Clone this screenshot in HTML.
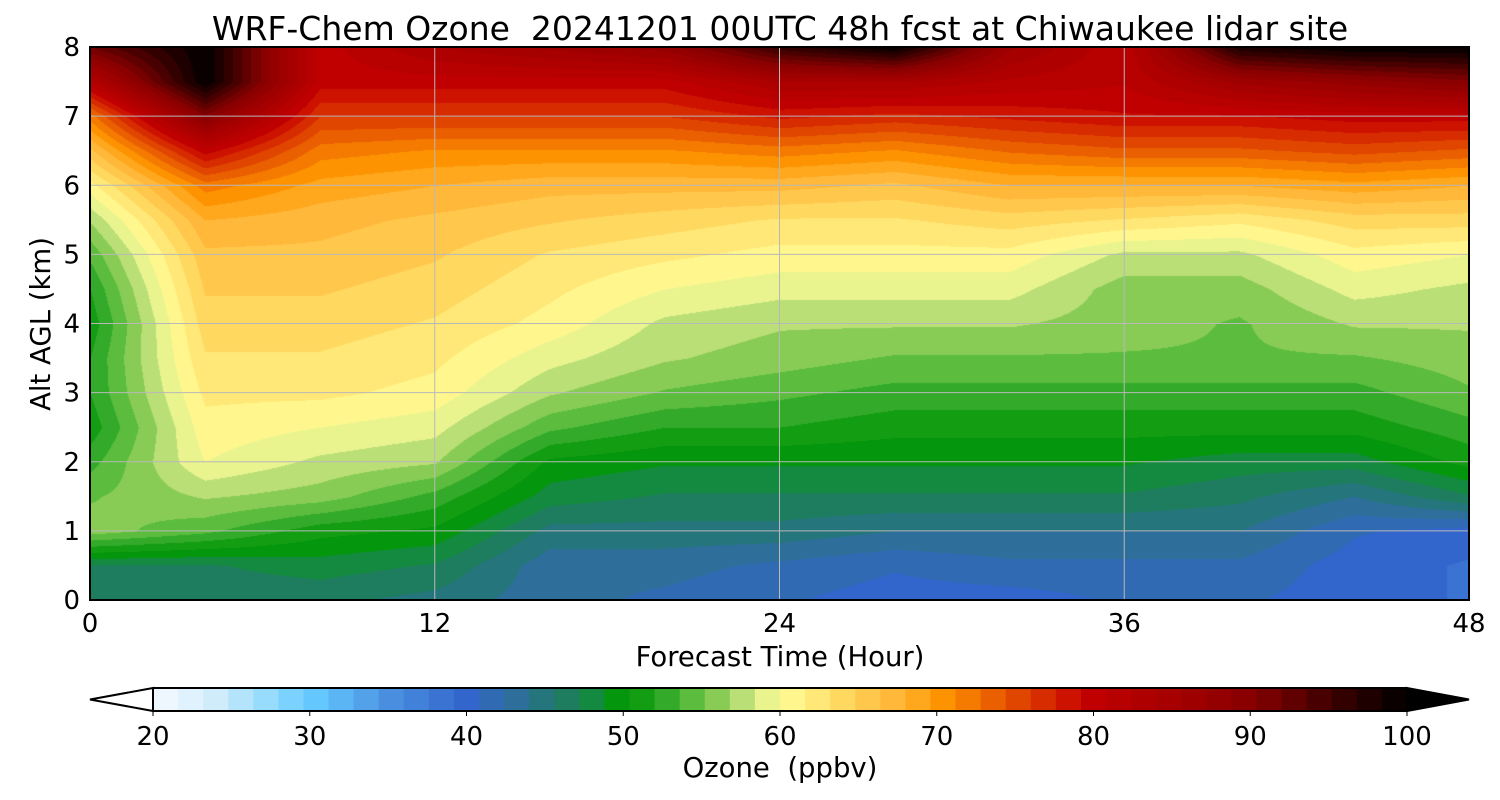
<!DOCTYPE html>
<html><head><meta charset="utf-8"><style>
body{margin:0;background:#fff;font-family:"DejaVu Sans","Liberation Sans",sans-serif;}
#wrap{position:relative;width:1500px;height:800px;overflow:hidden;}
svg{position:absolute;left:0;top:0;}
svg text{white-space:pre;}
canvas{position:absolute;left:90px;top:47px;}
</style></head><body>
<div id="wrap">
<canvas id="cv" width="1379" height="553"></canvas>
<svg id="sv" width="1500" height="800"></svg>
</div>
<script>
const times=[0,4,8,12,16,20,24,28,32,36,40,44,48];
const alts=[0,0.5,1,1.5,2,2.5,3,3.5,4,4.5,5,5.5,6,6.5,7,7.5,8];
const ozone=[
[47,47,56,55,53,51,52,52,51,52,54,57,61,66,72,82,92],
[46,47,54,57,60,61,62,63,64,65,66,68,72,80,90,100,100],
[46,48,51,56,58,60,62,63,64,65,66,67,69,72,76,80,80],
[45,47,50,53,57,59,61,62,63,64,65,66,68,71,76,80,84],
[43,43,45,48,50,54,57,59,61,62,63,65,67,71,76,80,86],
[42,43,45,47,49,52,55,57,58,60,62,64,67,71,76,80,88],
[41,42,45,47,49,52,54,56,57,59,61,63,67,72,78,84,96],
[40,41,44,47,49,51,53,55,57,59,61,63,66,71,77,84,100],
[40,42,44,47,49,51,53,55,57,59,61,64,68,73,78,82,86],
[41,42,44,47,49,51,53,55,56,56,58,63,68,74,79,81,81],
[41,42,44,46,48,51,53,55,55,56,58,62,68,74,79,86,98],
[40,40,41,44,48,51,53,55,57,59,61,64,69,75,80,88,100],
[39,39,40,47,51,53,55,56,57,58,60,64,68,74,80,90,100]];
const xTicks=[0,12,24,36,48];
const yTicks=[0,1,2,3,4,5,6,7,8];
const cbTicks=[20,30,40,50,60,70,80,90,100];
const stops=[[20,'#f5faff'],[24,'#d0ecfb'],[30,'#66ccff'],[35,'#4a90e0'],[40,'#3366cc'],[43,'#2e6e9e'],[46,'#1f7a66'],[48,'#148a40'],[50,'#009900'],[52,'#20a020'],[54,'#50b838'],[56,'#88cc55'],[58,'#c8e480'],[60,'#ffff99'],[64,'#ffd860'],[68,'#ffb030'],[70,'#ff9900'],[74,'#e85a00'],[78,'#d01800'],[80,'#c00000'],[86,'#a00000'],[90,'#880000'],[95,'#400000'],[100,'#000000']];
const X0=90,X1=1469,Y0=600,Y1=47;
const xs=t=>X0+(t-0)/48*(X1-X0), ys=a=>Y0-(a/8)*(Y0-Y1);
function hex(h){return [1,3,5].map(i=>parseInt(h.substr(i,2),16));}
function color(v){
  v=20+Math.floor((v-20)/1.6)*1.6+0.8;
  if(v<=20)return hex('#ffffff'); if(v>=100)return [0,0,0];
  for(let i=0;i<stops.length-1;i++){const[a,ca]=stops[i],[b,cb]=stops[i+1];
    if(v>=a&&v<=b){const f=(v-a)/(b-a),A=hex(ca),B=hex(cb);return A.map((c,k)=>Math.round(c+(B[k]-c)*f));}}
  return [0,0,0];
}
function val(t,a){
  let i=Math.min(times.length-2,Math.floor(t/4)),j=Math.min(alts.length-2,Math.floor(a/0.5));
  const ft=(t-times[i])/4,fa=(a-alts[j])/0.5;
  const v00=ozone[i][j],v10=ozone[i+1][j],v01=ozone[i][j+1],v11=ozone[i+1][j+1];
  return v00*(1-ft)*(1-fa)+v10*ft*(1-fa)+v01*(1-ft)*fa+v11*ft*fa;
}
const ctx=document.getElementById('cv').getContext('2d');
const W=1379,H=553,img=ctx.createImageData(W,H);
for(let py=0;py<H;py++){const a=(H-py)/H*8;
  for(let px=0;px<W;px++){const t=px/W*48;const c=color(val(t,a));const k=(py*W+px)*4;
    img.data[k]=c[0];img.data[k+1]=c[1];img.data[k+2]=c[2];img.data[k+3]=255;}}
ctx.putImageData(img,0,0);
const sv=document.getElementById('sv');const NS='http://www.w3.org/2000/svg';
function mk(tag,attrs,txt){const e=document.createElementNS(NS,tag);for(const k in attrs)e.setAttribute(k,attrs[k]);if(txt!==undefined)e.textContent=txt;sv.appendChild(e);return e;}
yTicks.forEach(v=>{const l=mk('line',{x1:X0,x2:X1,y1:ys(v),y2:ys(v),stroke:'#b8b8b8','stroke-width':1});


const t=mk('text',{x:80,y:ys(v)+9,'text-anchor':'end','font-size':26},v);

});
xTicks.forEach(v=>{const l=mk('line',{x1:xs(v),x2:xs(v),y1:Y1,y2:Y0,stroke:'#b8b8b8','stroke-width':1});


const t=mk('text',{x:xs(v),y:632,'text-anchor':'middle','font-size':26},v);

});
const fr=mk('rect',{x:X0,y:Y1,width:X1-X0,height:Y0-Y1,fill:'none',stroke:'#000','stroke-width':2});


const ti=mk('text',{x:780,y:40,'text-anchor':'middle','font-size':33},'WRF-Chem Ozone  20241201 00UTC 48h fcst at Chiwaukee lidar site');


const xl=mk('text',{x:780,y:666,'text-anchor':'middle','font-size':27.5},'Forecast Time (Hour)');


const yl=mk('text',{x:0,y:0,'text-anchor':'middle','font-size':27.5,transform:'translate(50,324) rotate(-90)'},'Alt AGL (km)');


// colorbar
const C0=153,C1=1407,CT=688,CB=711,cx=v=>C0+(v-20)/80*(C1-C0);
for(let v=20;v<99.9;v+=1.6){const c=color(v+0.1);const r=mk('rect',{x:cx(v),y:CT,width:cx(v+1.6)-cx(v)+0.6,height:CB-CT,fill:`rgb(${c})`});

}
const tl=mk('polygon',{points:`${C0},${CT} 90,${(CT+CB)/2} ${C0},${CB}`,fill:'#fff',stroke:'#000','stroke-width':2});


const tr=mk('polygon',{points:`${C1},${CT} 1469,${(CT+CB)/2} ${C1},${CB}`,fill:'#000',stroke:'#000','stroke-width':2});


const cf=mk('polyline',{points:`${C0},${CT} ${C1},${CT}`,stroke:'#000','stroke-width':2,fill:'none'});


const cf2=mk('polyline',{points:`${C0},${CB} ${C1},${CB}`,stroke:'#000','stroke-width':2,fill:'none'});


cbTicks.forEach(v=>{const tk=mk('line',{x1:cx(v),x2:cx(v),y1:CB,y2:CB+5,stroke:'#000','stroke-width':1});


const t=mk('text',{x:cx(v),y:745,'text-anchor':'middle','font-size':26},v);

});
const cl=mk('text',{x:780,y:777,'text-anchor':'middle','font-size':27.5},'Ozone  (ppbv)');


</script>
</body></html>
